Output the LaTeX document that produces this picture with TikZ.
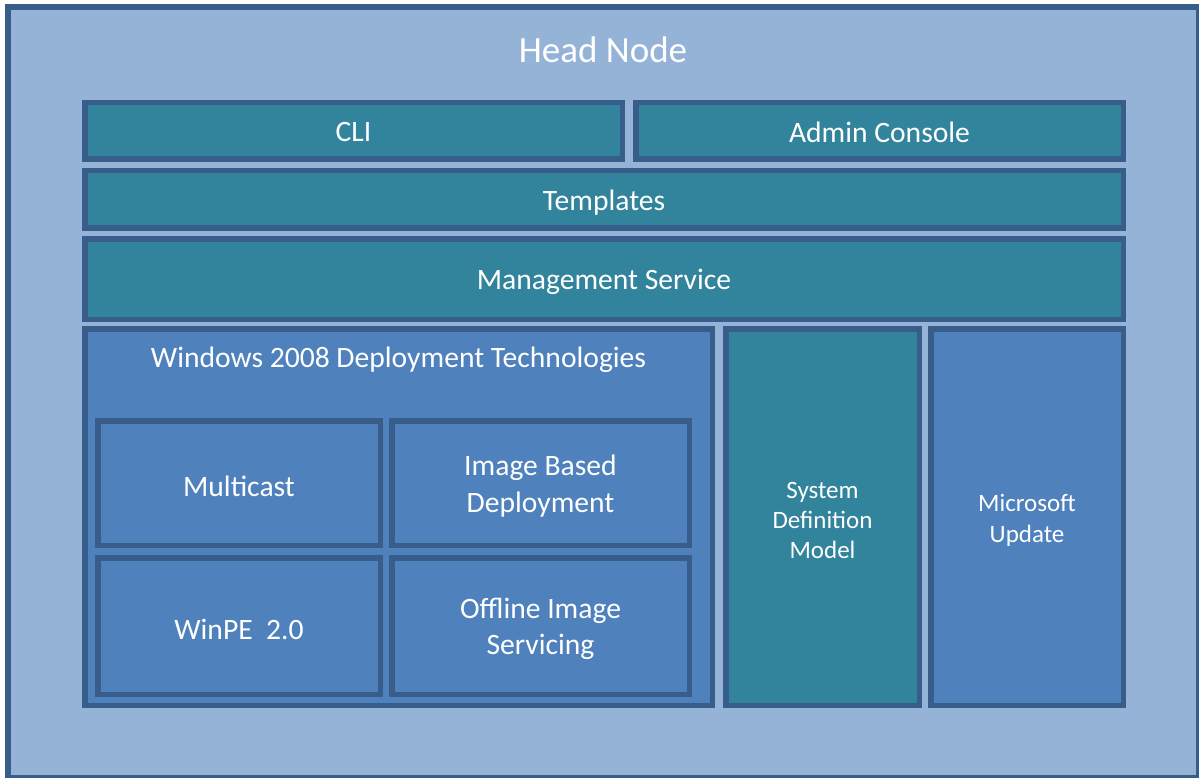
\documentclass[tikz,border=0pt]{standalone}
\usepackage{fontspec}
\setmainfont{Carlito}
\definecolor{bgfill}{HTML}{95B3D7}
\definecolor{edgecol}{HTML}{385D8A}
\definecolor{tealfill}{HTML}{31849B}
\definecolor{bluefill}{HTML}{4F81BD}
\begin{document}
\begin{tikzpicture}[x=1pt,y=-1pt,
  box/.style={draw=edgecol, line width=5.5pt, inner sep=0pt},
  tealbox/.style={box, fill=tealfill},
  bluebox/.style={box, fill=bluefill},
  bigfont/.style={font=\fontsize{29.6}{36.5}\selectfont, text=white, align=center, inner sep=0pt},
  bigtext/.style={bigfont, yshift=-3pt},
  smalltext/.style={font=\fontsize{25}{30.3}\selectfont, text=white, align=center, inner sep=0pt, yshift=-3.5pt},
  titletext/.style={font=\fontsize{37}{44}\selectfont, text=white, inner sep=0pt}]
\useasboundingbox (0,0) rectangle (1199,778);
\node[draw=edgecol, fill=bgfill, line width=6pt, minimum width=1190.5pt, minimum height=770.5pt, inner sep=0pt] (head) at (603.25,392.25) {};
\node[titletext, anchor=base] (headtitle) at (603,63) {Head Node};

\node[tealbox, minimum width=537.5pt, minimum height=56.5pt, label={[bigtext, yshift=2pt]center:CLI}] (cli) at (353.5,131) {};
\node[tealbox, minimum width=487.5pt, minimum height=56.5pt, label={[bigtext, yshift=2pt]center:Admin Console}] (admin) at (879.5,131) {};
\node[tealbox, minimum width=1038.5pt, minimum height=57.5pt, label={[bigtext]center:Templates}] (templates) at (604,199.5) {};
\node[tealbox, minimum width=1038.5pt, minimum height=80.5pt, label={[bigtext]center:Management Service}] (mgmt) at (604,279) {};

\node[bluebox, minimum width=627.5pt, minimum height=376.5pt] (win) at (398.5,517) {};
\node[bigfont, anchor=base] (wintitle) at (398.5,367) {Windows 2008 Deployment Technologies};

\node[bluebox, minimum width=282.5pt, minimum height=124.5pt, label={[bigtext]center:Multicast}] (multicast) at (239,483) {};
\node[bluebox, minimum width=297.5pt, minimum height=124.5pt, label={[bigtext]center:Image Based\\Deployment}] (ibd) at (540.5,483) {};
\node[bluebox, minimum width=282.5pt, minimum height=136.5pt, label={[bigtext]center:WinPE\ \ 2.0}] (winpe) at (239,626) {};
\node[bluebox, minimum width=297.5pt, minimum height=136.5pt, label={[bigtext]center:Offline Image\\Servicing}] (offline) at (540.5,626) {};

\node[tealbox, minimum width=193.5pt, minimum height=376.5pt, label={[smalltext]center:System\\Definition\\Model}] (sdm) at (822.5,517) {};
\node[bluebox, minimum width=192.5pt, minimum height=376.5pt, label={[smalltext]center:Microsoft\\Update}] (msu) at (1027,517) {};
\end{tikzpicture}
\end{document}
